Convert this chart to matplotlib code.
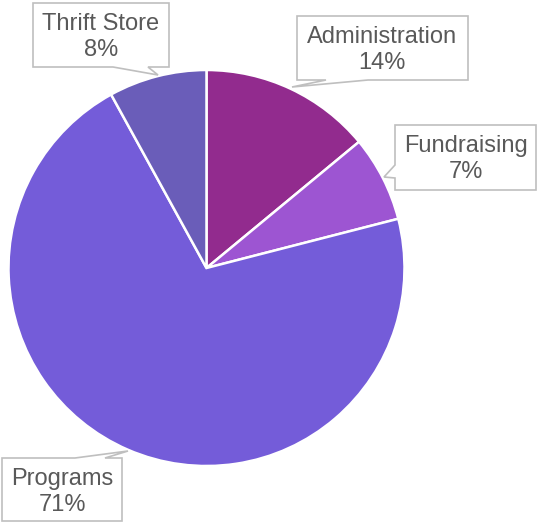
import matplotlib
matplotlib.use("Agg")
import matplotlib.pyplot as plt
from matplotlib.patches import Polygon

categories = ["Administration", "Fundraising", "Programs", "Thrift Store"]
values = [14, 7, 71, 8]
colors = ["#922B8E", "#9D55D2", "#745CD9", "#6A5DB9"]

W, H = 537, 523
fig = plt.figure(figsize=(W / 100, H / 100), dpi=100)
ax = fig.add_axes([0, 0, 1, 1])

cx, cy, r = 206.5, 268, 198
ax.pie(values, colors=colors, startangle=90, counterclock=False,
       center=(cx, H - cy), radius=r,
       wedgeprops=dict(edgecolor="white", linewidth=1.8), frame=True)
ax.set_xlim(0, W)
ax.set_ylim(0, H)
ax.set_aspect("equal")
ax.axis("off")

# callout boxes in pixel coords (top-left origin): box, pointer (base1, tip, base2) on edge
callouts = {
    "Thrift Store": dict(box=(33, 3, 169, 67), edge="bottom", base=(148, 113), tip=(158, 75), text=(101, 37)),
    "Administration": dict(box=(297, 16, 468, 80), edge="bottom", base=(368, 326), tip=(292, 87), text=(382, 50)),
    "Fundraising": dict(box=(395, 125, 536, 190), edge="left", base=(178, 165), tip=(384, 177), text=(466, 159)),
    "Programs": dict(box=(2, 458, 122, 521), edge="top", base=(75, 105), tip=(128, 451), text=(62, 492)),
}

def build(box, edge, base, tip):
    x0, y0, x1, y1 = box
    if edge == "bottom":
        pts = [(x0, y0), (x1, y0), (x1, y1), (base[0], y1), tip, (base[1], y1), (x0, y1)]
    elif edge == "top":
        pts = [(x0, y0), (base[0], y0), tip, (base[1], y0), (x1, y0), (x1, y1), (x0, y1)]
    else:  # left
        pts = [(x0, y0), (x1, y0), (x1, y1), (x0, y1), (x0, base[0]), tip, (x0, base[1])]
    return [(px, H - py) for px, py in pts]

for cat, val in zip(categories, values):
    c = callouts[cat]
    poly = Polygon(build(c["box"], c["edge"], c["base"], c["tip"]), closed=True,
                   facecolor="white", edgecolor="#BFBFBF", linewidth=1.2, zorder=5)
    ax.add_patch(poly)
    tx, ty = c["text"]
    ax.text(tx, H - ty, f"{cat}\n{val}%", ha="center", va="center",
            fontsize=17, color="#595959", family="Liberation Sans",
            linespacing=1.22, zorder=6)

fig.savefig("out.png", dpi=100)
